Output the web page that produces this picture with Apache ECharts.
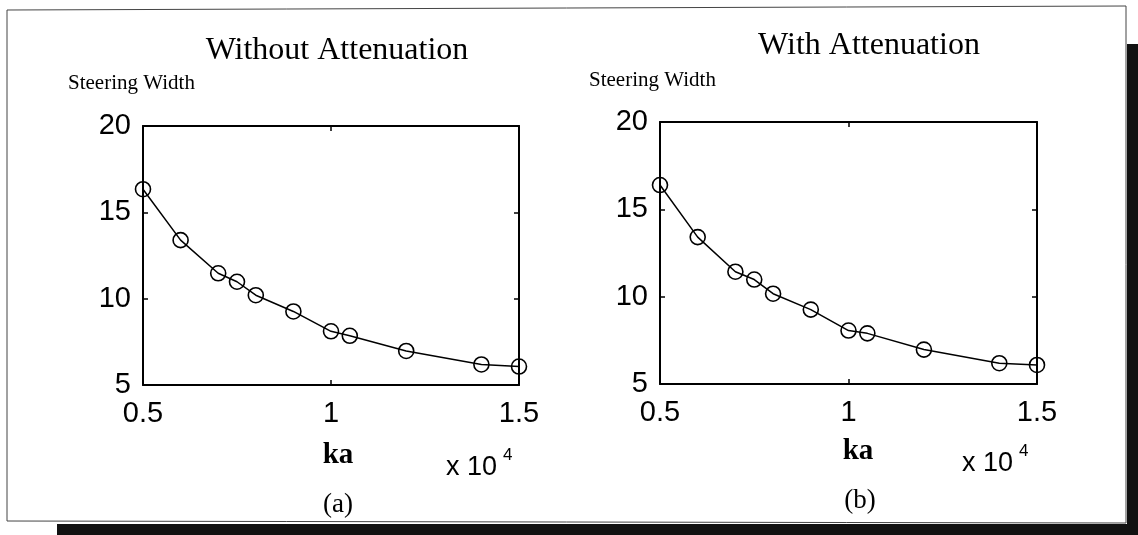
<!DOCTYPE html>
<html>
<head>
<meta charset="utf-8">
<script src="https://cdn.jsdelivr.net/npm/echarts@6/dist/echarts.min.js"></script>
<style>
html,body{margin:0;padding:0;background:#fff;}
#chart{width:1138px;height:535px;}
</style>
</head>
<body>
<div id="chart"></div>
<script>
// ---- data ----
const kaValues = [5000, 6000, 7000, 7500, 8000, 9000, 10000, 10500, 12000, 14000, 15000];
const widthWithout = [16.34, 13.39, 11.47, 10.98, 10.20, 9.26, 8.11, 7.85, 6.97, 6.19, 6.07];
const widthWith = [16.39, 13.41, 11.43, 10.98, 10.17, 9.26, 8.06, 7.90, 6.97, 6.19, 6.09];
const xTicks = [5000, 10000, 15000];
const yTicks = [5, 10, 15, 20];
const panelTitles = ['Without Attenuation', 'With Attenuation'];
const panelLabels = ['(a)', '(b)'];
const yName = 'Steering Width';
const xName = 'ka';

const chart = echarts.init(document.getElementById('chart'), null, {renderer: 'canvas'});

const grids = [
  {left: 143, top: 126, width: 376, height: 259},
  {left: 660, top: 122, width: 377, height: 262}
];

const tickFont = {fontFamily: 'Liberation Sans', fontSize: 29, color: '#000'};
const xAxes = [], yAxes = [], series = [];
const datasets = [widthWithout, widthWith];

grids.forEach((g, i) => {
  xAxes.push({
    type: 'value', gridIndex: i, position: 'bottom',
    min: xTicks[0], max: xTicks[xTicks.length - 1], interval: xTicks[1] - xTicks[0],
    axisLine: {show: true, onZero: false, lineStyle: {color: '#000', width: 2}},
    axisTick: {show: true, inside: true, length: 5, lineStyle: {color: '#000', width: 1.5}},
    axisLabel: Object.assign({margin: 14, formatter: v => String(v / 10000)}, tickFont),
    splitLine: {show: false}
  });
  xAxes.push({
    type: 'value', gridIndex: i, position: 'top',
    min: xTicks[0], max: xTicks[xTicks.length - 1], interval: xTicks[1] - xTicks[0],
    axisLine: {show: true, onZero: false, lineStyle: {color: '#000', width: 2}},
    axisTick: {show: true, inside: true, length: 5, lineStyle: {color: '#000', width: 1.5}},
    axisLabel: {show: false},
    splitLine: {show: false}
  });
  yAxes.push({
    type: 'value', gridIndex: i, position: 'left',
    min: yTicks[0], max: yTicks[yTicks.length - 1], interval: yTicks[1] - yTicks[0],
    axisLine: {show: true, onZero: false, lineStyle: {color: '#000', width: 2}},
    axisTick: {show: true, inside: true, length: 5, lineStyle: {color: '#000', width: 1.5}},
    axisLabel: Object.assign({margin: 12}, tickFont),
    splitLine: {show: false}
  });
  yAxes.push({
    type: 'value', gridIndex: i, position: 'right',
    min: yTicks[0], max: yTicks[yTicks.length - 1], interval: yTicks[1] - yTicks[0],
    axisLine: {show: true, onZero: false, lineStyle: {color: '#000', width: 2}},
    axisTick: {show: true, inside: true, length: 5, lineStyle: {color: '#000', width: 1.5}},
    axisLabel: {show: false},
    splitLine: {show: false}
  });
  series.push({
    type: 'line',
    xAxisIndex: i * 2, yAxisIndex: i * 2,
    data: kaValues.map((k, j) => [k, datasets[i][j]]),
    symbol: 'circle', symbolSize: 15, showSymbol: true, clip: false,
    lineStyle: {color: '#000', width: 1.5},
    itemStyle: {color: 'rgba(0,0,0,0)', borderColor: '#000', borderWidth: 1.6},
    emphasis: {disabled: true},
    z: 5
  });
});

const serif = 'Liberation Serif';
const sans = 'Liberation Sans';
const txt = (text, x, y, font, align) => ({
  type: 'text', x: x, y: y, silent: true,
  style: {text: text, font: font, fill: '#000', align: align || 'center', verticalAlign: 'middle'}
});

const graphic = [
  {type: 'polyline', silent: true, z: 0,
   shape: {points: [[7, 10], [1126, 6], [1126, 523], [7, 521], [7, 10]]},
   style: {stroke: '#444', lineWidth: 1, fill: null}},
  {type: 'rect', silent: true, shape: {x: 1127, y: 44, width: 11, height: 491}, style: {fill: '#111'}},
  {type: 'rect', silent: true, shape: {x: 57, y: 524, width: 1081, height: 11}, style: {fill: '#111'}},
  // panel (a)
  txt(panelTitles[0], 337, 51, '32px ' + serif),
  txt(yName, 68, 83, '21px ' + serif, 'left'),
  txt(xName, 338, 456, 'bold 29px ' + serif),
  txt('x 10', 446, 468, '27px ' + sans, 'left'),
  txt('4', 503, 455, '17px ' + sans, 'left'),
  txt(panelLabels[0], 338, 505, '27px ' + serif),
  // panel (b)
  txt(panelTitles[1], 869, 46, '32px ' + serif),
  txt(yName, 589, 80, '21px ' + serif, 'left'),
  txt(xName, 858, 452, 'bold 29px ' + serif),
  txt('x 10', 962, 464, '27px ' + sans, 'left'),
  txt('4', 1019, 451, '17px ' + sans, 'left'),
  txt(panelLabels[1], 860, 501, '27px ' + serif)
];

chart.setOption({
  backgroundColor: '#fff',
  animation: false,
  grid: grids,
  xAxis: xAxes,
  yAxis: yAxes,
  series: series,
  graphic: graphic
});
</script>
</body>
</html>
